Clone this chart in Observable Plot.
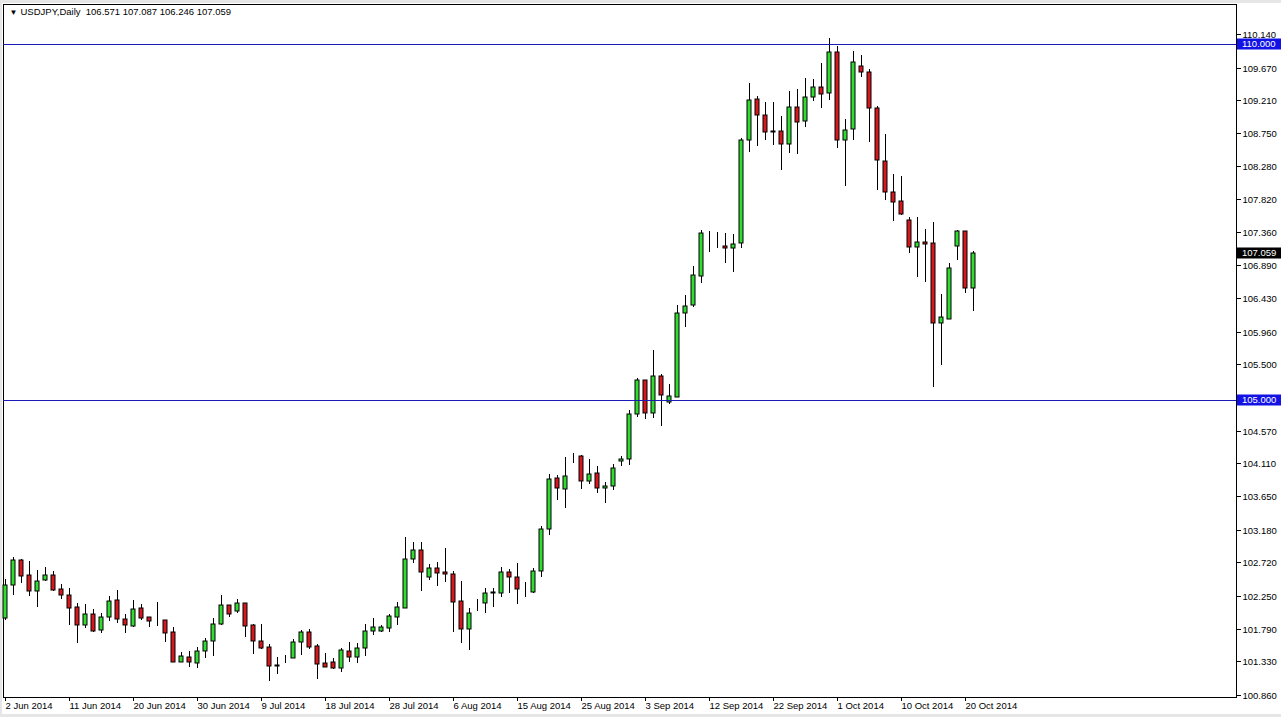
<!DOCTYPE html>
<html>
<head>
<meta charset="utf-8">
<script src="https://cdn.jsdelivr.net/npm/d3@7"></script>
<script src="https://cdn.jsdelivr.net/npm/@observablehq/plot@0.6"></script>
<style>
  html, body { margin: 0; padding: 0; }
  body { background: #e6e6e6; width: 1281px; height: 717px; position: relative; overflow: hidden; }
  #paper { position: absolute; left: 2px; top: 3px; width: 1279px; height: 711px; background: #ffffff; }
  #chart { position: absolute; left: 0; top: 0; }
</style>
</head>
<body>
<div id="paper"></div>
<div id="chart"></div>
<script>
const symbol = "USDJPY";
const timeframe = "Daily";

const open = [
101.934,102.402,102.753,102.543,102.322,102.472,102.538,102.346,102.257,102.088,
101.845,101.990,101.765,101.957,102.187,101.920,101.826,102.074,101.948,101.910,
101.910,101.737,101.325,101.390,101.302,101.475,101.611,101.850,102.116,102.041,
102.145,101.840,101.620,101.531,101.269,101.386,101.372,101.601,101.737,101.545,
101.302,101.316,101.232,101.470,101.396,101.513,101.751,101.761,101.803,101.957,
102.079,102.763,102.894,102.519,102.636,102.580,102.552,102.177,101.779,102.159,
102.145,102.290,102.294,102.580,102.510,102.305,102.299,102.594,103.184,103.905,
103.745,104.237,104.213,103.858,103.970,103.759,103.792,104.139,104.167,104.803,
105.276,104.813,105.337,104.976,105.047,106.217,106.330,106.747,107.341,107.177,
107.163,107.130,107.200,108.652,109.223,108.998,108.769,108.778,108.591,109.120,
108.914,109.260,109.392,109.307,109.883,108.652,108.801,109.691,109.602,109.096,
108.361,107.921,107.795,107.528,107.144,107.214,107.200,106.077,106.142,107.168,
107.374,106.571];
const high = [
102.482,102.800,102.767,102.739,102.613,102.660,102.603,102.416,102.355,102.154,
102.135,102.060,102.013,102.248,102.332,101.990,102.191,102.135,101.950,102.168,
101.915,101.807,101.466,101.475,101.536,101.653,101.934,102.262,102.120,102.200,
102.150,101.860,101.850,101.573,101.395,101.420,101.648,101.770,101.784,101.573,
101.442,101.372,101.517,101.601,101.583,101.854,101.934,101.836,101.995,102.168,
103.081,103.006,103.006,102.697,102.720,102.922,102.603,102.458,102.074,102.201,
102.355,102.365,102.650,102.622,102.706,102.440,102.645,103.230,103.956,103.947,
104.204,104.260,104.232,104.172,104.073,103.853,104.101,104.213,104.860,105.304,
105.280,105.702,105.360,105.225,106.334,106.475,106.882,107.388,107.374,107.364,
107.341,107.332,108.675,109.457,109.270,109.190,109.190,108.989,109.345,109.364,
109.518,109.504,109.729,110.080,109.972,108.942,109.902,109.846,109.644,109.134,
108.736,108.174,108.146,107.575,107.566,107.397,107.505,106.489,106.929,107.388,
107.380,107.087];
const low = [
101.910,102.262,102.435,102.248,102.098,102.458,102.320,102.205,101.840,101.592,
101.793,101.747,101.723,101.900,101.864,101.733,101.817,101.910,101.808,101.826,
101.606,101.316,101.316,101.255,101.232,101.381,101.404,101.840,101.957,102.013,
101.676,101.430,101.500,101.058,101.152,101.310,101.370,101.419,101.500,101.077,
101.250,101.218,101.185,101.325,101.311,101.410,101.705,101.747,101.747,101.840,
102.074,102.716,102.322,102.472,102.388,102.449,101.747,101.592,101.489,102.042,
102.014,102.088,102.229,102.294,102.131,102.238,102.285,102.510,103.100,103.591,
103.488,104.120,103.745,103.816,103.689,103.549,103.736,104.078,104.087,104.757,
104.728,104.752,104.640,104.944,105.037,106.030,106.311,106.639,107.084,107.130,
106.920,106.803,107.130,108.488,108.567,108.652,108.582,108.231,108.474,108.455,
108.839,109.204,109.106,109.214,108.535,108.006,108.652,109.532,108.628,107.950,
107.809,107.519,107.598,107.060,106.732,106.662,105.187,105.492,106.133,106.967,
106.507,106.246];
const close = [
102.402,102.753,102.533,102.322,102.458,102.538,102.327,102.266,102.084,101.845,
101.990,101.756,101.957,102.182,101.920,101.835,102.060,101.934,101.901,101.912,
101.733,101.325,101.405,101.316,101.470,101.611,101.859,102.116,101.999,102.145,
101.831,101.620,101.520,101.269,101.272,101.388,101.601,101.737,101.527,101.292,
101.255,101.232,101.489,101.396,101.517,101.756,101.808,101.812,101.967,102.088,
102.763,102.889,102.589,102.636,102.575,102.552,102.168,101.779,102.004,102.165,
102.285,102.300,102.580,102.510,102.341,102.310,102.598,103.184,103.886,103.759,
103.928,104.240,103.858,103.956,103.759,103.792,104.050,104.172,104.803,105.276,
104.813,105.337,105.065,105.056,106.217,106.325,106.756,107.341,107.340,107.177,
107.130,107.191,108.652,109.213,108.998,108.769,108.772,108.591,109.120,108.900,
109.260,109.392,109.293,109.883,108.652,108.793,109.743,109.602,109.096,108.371,
107.917,107.786,107.617,107.144,107.214,107.186,106.077,106.161,106.849,107.374,
106.568,107.059];

const xTickIdx = [0, 8, 16, 24, 32, 40, 48, 56, 64, 72, 80, 88, 96, 104, 112, 120];
const xLabels = ["2 Jun 2014","11 Jun 2014","20 Jun 2014","30 Jun 2014","9 Jul 2014",
  "18 Jul 2014","28 Jul 2014","6 Aug 2014","15 Aug 2014","25 Aug 2014","3 Sep 2014",
  "12 Sep 2014","22 Sep 2014","1 Oct 2014","10 Oct 2014","20 Oct 2014"];
const yTicks = [110.14,109.67,109.21,108.75,108.28,107.82,107.36,106.89,106.43,105.96,
  105.5,104.57,104.11,103.65,103.18,102.72,102.25,101.79,101.33,100.86];
const levels = [110.0, 105.0];

const bars = open.map((o, i) => ({i, open: o, high: high[i], low: low[i], close: close[i]}));
const last = bars[bars.length - 1];
const header = `${symbol},${timeframe}  ${[last.open, last.high, last.low, last.close].map(v => v.toFixed(3)).join(" ")}`;
const labelOf = new Map(xTickIdx.map((t, k) => [t, xLabels[k]]));

const GREEN = "#2fdc2f", RED = "#d6181e", LINE = "#1a1ab8", BOX = "#1212e6";
const FONT = "Tahoma, 'Liberation Sans', Arial, sans-serif";

const W = 1281, H = 717;
const plot = Plot.plot({
  width: W, height: H,
  marginTop: 4, marginBottom: 20, marginLeft: 3, marginRight: 45,
  style: {fontFamily: FONT, fontSize: "9.5px", color: "#000", background: "transparent", overflow: "visible"},
  x: {type: "linear", domain: [-0.25, 153.875], round: true},
  y: {domain: [100.829, 110.562], round: true},
  marks: [
    Plot.frame({stroke: "#000"}),
    Plot.ruleX(bars, {x: "i", y1: "low", y2: "high", stroke: "#000", strokeWidth: 1}),
    Plot.rect(bars.filter(d => d.close >= d.open), {x1: d => d.i - 0.25, x2: d => d.i + 0.25, y1: "open", y2: "close", fill: GREEN, stroke: "#000", strokeWidth: 1}),
    Plot.rect(bars.filter(d => d.close < d.open), {x1: d => d.i - 0.25, x2: d => d.i + 0.25, y1: "open", y2: "close", fill: RED, stroke: "#000", strokeWidth: 1}),
    Plot.ruleY(levels, {stroke: LINE, strokeWidth: 1}),
    Plot.axisY(yTicks, {anchor: "right", tickSize: 4, tickPadding: 2, tickFormat: d => d.toFixed(3), label: null, fill: "#000", stroke: "#000"}),
    Plot.axisX(xTickIdx, {anchor: "bottom", tickSize: 4, tickPadding: 1, tickFormat: d => labelOf.get(d), textAnchor: "start", label: null, fill: "#000", stroke: "#000"}),
    Plot.text(["▼"], {frameAnchor: "top-left", dx: 6, dy: 5, fontSize: 8, fill: "#000"}),
    Plot.text([header], {frameAnchor: "top-left", dx: 17, dy: 4, fill: "#000", fontSize: 9.5})
  ]
});

// price labels on the right axis (levels and current price)
const ys = plot.scale("y");
const svg = d3.select(plot);
const axisX0 = W - 45 + 1;
const tags = [
  ...levels.map(v => ({v, fill: BOX})),
  {v: last.close, fill: "#000"}
];
const g = svg.append("g")
  .attr("font-family", FONT)
  .attr("font-size", "9.5px")
  .attr("text-anchor", "start");
for (const t of tags) {
  const y = Math.round(ys.apply(t.v));
  g.append("rect").attr("x", axisX0).attr("y", y - 5.5).attr("width", W - axisX0).attr("height", 11).attr("fill", t.fill);
  g.append("text").attr("x", axisX0 + 5).attr("y", y).attr("dy", "0.34em")
    .attr("text-anchor", "start").attr("fill", "#fff").text(t.v.toFixed(3));
}

document.getElementById("chart").appendChild(plot);
</script>
</body>
</html>
